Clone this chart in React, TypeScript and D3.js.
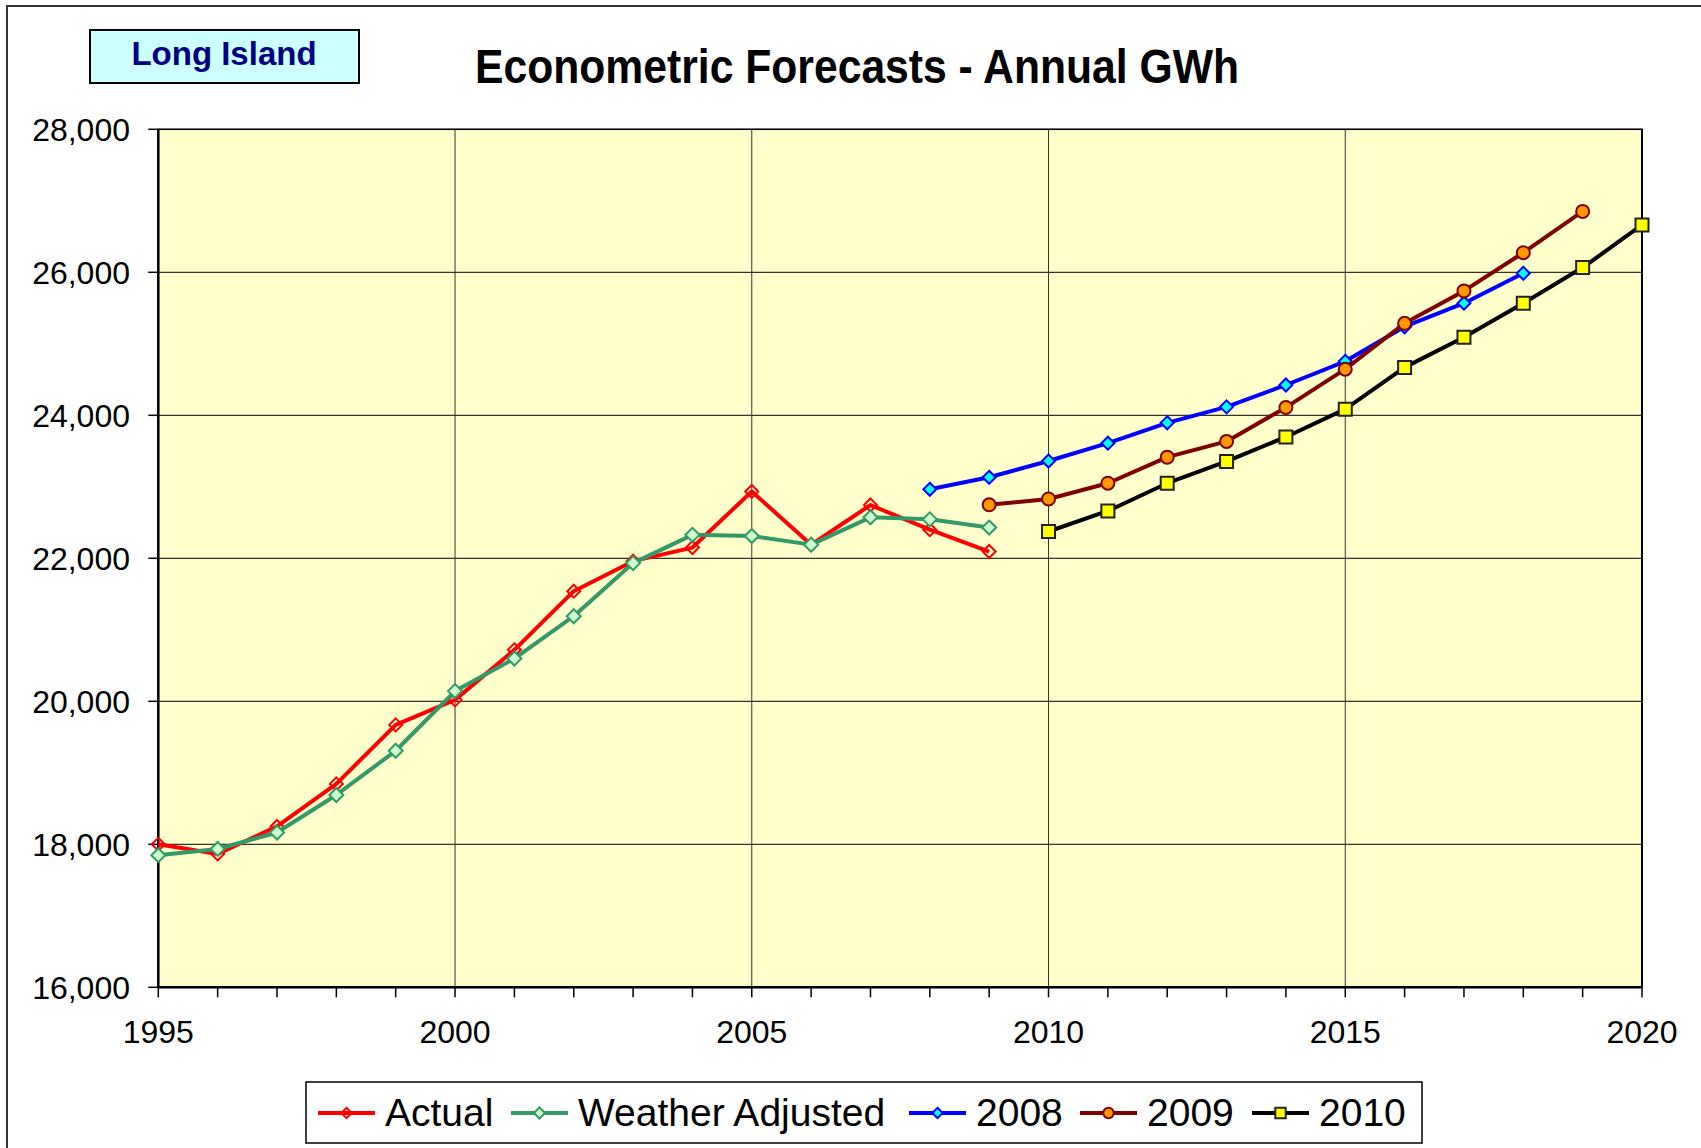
import React from "react";
import * as d3 from "d3";

const actualYears = [1995,1996,1997,1998,1999,2000,2001,2002,2003,2004,2005,2006,2007,2008,2009];
const actualValues = [18000,17865,18250,18845,19670,20020,20720,21540,21960,22150,22935,22190,22745,22400,22095];
const weatherValues = [17848,17935,18165,18690,19308,20143,20598,21190,21933,22328,22312,22191,22573,22545,22430];
const f2008Years = [2008,2009,2010,2011,2012,2013,2014,2015,2016,2017,2018];
const f2008Values = [22965,23133,23361,23610,23895,24118,24424,24755,25239,25568,25986];
const f2009Years = [2009,2010,2011,2012,2013,2014,2015,2016,2017,2018,2019];
const f2009Values = [22748,22830,23050,23415,23635,24110,24645,25287,25740,26274,26852];
const f2010Years = [2010,2011,2012,2013,2014,2015,2016,2017,2018,2019,2020];
const f2010Values = [22375,22662,23050,23355,23697,24086,24670,25091,25567,26066,26662];
const yTicks = [16000,18000,20000,22000,24000,26000,28000];
const xLabelTicks = [1995,2000,2005,2010,2015,2020];
const xMinorTicks = d3.range(1995, 2021);
const legendLabels = ["Actual","Weather Adjusted","2008","2009","2010"];

const FONT = "'Liberation Sans', Arial, sans-serif";

type Pt = [number, number];

function diamond(s: number) {
  return `M0,${-s}L${s},0L0,${s}L${-s},0Z`;
}
function square(s: number) {
  return `M${-s},${-s}H${s}V${s}H${-s}Z`;
}

const series = [
  { name: legendLabels[0], years: actualYears, values: actualValues, color: "#FF0000", marker: "diamond", size: 6.5, fill: "none", mstroke: "#FF0000" },
  { name: legendLabels[1], years: actualYears, values: weatherValues, color: "#339966", marker: "diamond", size: 7, fill: "#CCFFCC", mstroke: "#339966" },
  { name: legendLabels[2], years: f2008Years, values: f2008Values, color: "#0000FF", marker: "diamond", size: 6.5, fill: "#00FFFF", mstroke: "#0000FF" },
  { name: legendLabels[3], years: f2009Years, values: f2009Values, color: "#800000", marker: "circle", size: 6.5, fill: "#FF9900", mstroke: "#800000" },
  { name: legendLabels[4], years: f2010Years, values: f2010Values, color: "#000000", marker: "square", size: 6.5, fill: "#FFFF00", mstroke: "#222222" },
];

function Marker({ s, x, y, scale = 1 }: { s: any; x: number; y: number; scale?: number }) {
  const size = s.size * scale;
  if (s.marker === "circle") {
    return <circle cx={x} cy={y} r={size} fill={s.fill} stroke={s.mstroke} strokeWidth={2} />;
  }
  const d = s.marker === "square" ? square(size) : diamond(size);
  return <path d={d} transform={`translate(${x},${y})`} fill={s.fill} stroke={s.mstroke} strokeWidth={2} />;
}

export default function App() {
  const W = 1701, H = 1148;
  const left = 158.3, right = 1642, top = 129.3, bottom = 987.3;
  const x = d3.scaleLinear().domain([1995, 2020]).range([left, right]);
  const y = d3.scaleLinear().domain([16000, 28000]).range([bottom, top]);
  const line = d3.line<Pt>().x(d => x(d[0])).y(d => y(d[1]));

  const legendLineStarts = [318, 511, 909, 1080, 1252];

  return (
    <svg width={W} height={H} viewBox={`0 0 ${W} ${H}`} style={{ position: "absolute", left: 0, top: 0, background: "#fff" }}>
      {/* outer border (only top & left visible) */}
      <rect x={7} y={6} width={W + 20} height={H + 20} fill="#fff" stroke="#333" strokeWidth={2} />

      {/* Long Island box */}
      <rect x={90} y={30} width={269} height={53} fill="#CCFFFF" stroke="#000" strokeWidth={2} />
      <text x={224} y={65} textAnchor="middle" fontFamily={FONT} fontWeight="bold" fontSize={33} fill="#000080">Long Island</text>

      {/* Title */}
      <text x={857} y={83} textAnchor="middle" fontFamily={FONT} fontWeight="bold" fontSize={48} textLength={764} lengthAdjust="spacingAndGlyphs" fill="#000">Econometric Forecasts - Annual GWh</text>

      {/* plot area */}
      <rect x={left} y={top} width={right - left} height={bottom - top} fill="#FFFFCC" />
      {yTicks.map(t => (
        <line key={"gy" + t} x1={left} x2={right} y1={y(t)} y2={y(t)} stroke="#000" strokeWidth={1} />
      ))}
      {xLabelTicks.map(t => (
        <line key={"gx" + t} x1={x(t)} x2={x(t)} y1={top} y2={bottom} stroke="#333" strokeWidth={1} />
      ))}
      <rect x={left} y={top} width={right - left} height={bottom - top} fill="none" stroke="#000" strokeWidth={1.5} />
      <line x1={left} x2={left} y1={top} y2={bottom} stroke="#000" strokeWidth={2.5} />
      <line x1={left} x2={right} y1={bottom} y2={bottom} stroke="#000" strokeWidth={2.5} />
      <line x1={right} x2={right} y1={top} y2={bottom} stroke="#000" strokeWidth={2} />

      {/* y ticks */}
      {yTicks.map(t => (
        <g key={"yt" + t}>
          <line x1={left - 10} x2={left} y1={y(t)} y2={y(t)} stroke="#000" strokeWidth={1.5} />
          <text x={130} y={y(t) + 11.5} textAnchor="end" fontFamily={FONT} fontSize={32} fill="#000">{d3.format(",")(t)}</text>
        </g>
      ))}
      {/* x ticks */}
      {xMinorTicks.map(t => (
        <line key={"xt" + t} x1={x(t)} x2={x(t)} y1={bottom} y2={bottom + 10} stroke="#000" strokeWidth={1.5} />
      ))}
      {xLabelTicks.map(t => (
        <text key={"xl" + t} x={x(t)} y={1043} textAnchor="middle" fontFamily={FONT} fontSize={32} fill="#000">{t}</text>
      ))}

      {/* series */}
      {series.map(s => {
        const pts: Pt[] = s.years.map((yr, i) => [yr, s.values[i]]);
        return (
          <g key={s.name}>
            <path d={line(pts) || ""} fill="none" stroke={s.color} strokeWidth={4} strokeLinejoin="round" />
            {pts.map((p, i) => <Marker key={i} s={s} x={x(p[0])} y={y(p[1])} />)}
          </g>
        );
      })}

      {/* legend */}
      <rect x={306} y={1082} width={1116} height={61} fill="#fff" stroke="#000" strokeWidth={1.5} />
      {series.map((s, i) => {
        const lx = legendLineStarts[i];
        const ly = 1113;
        return (
          <g key={"lg" + i}>
            <line x1={lx} x2={lx + 57} y1={ly} y2={ly} stroke={s.color} strokeWidth={4} />
            <Marker s={s} x={lx + 28.5} y={ly} scale={0.8} />
            <text x={lx + 67} y={1126} fontFamily={FONT} fontSize={39} fill="#000">{s.name}</text>
          </g>
        );
      })}
    </svg>
  );
}
